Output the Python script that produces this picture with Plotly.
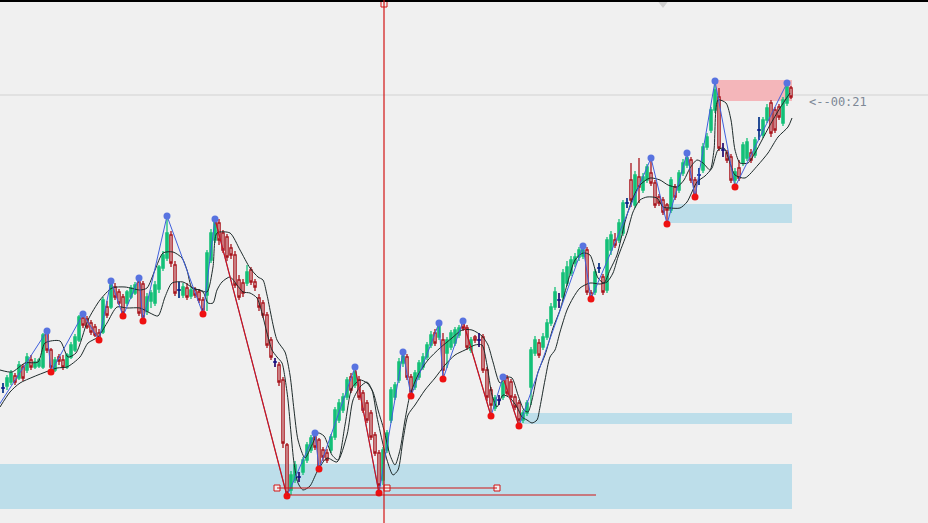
import plotly.graph_objects as go

# ---------------- candle data (arbitrary price units) ----------------
candle_idx = list(range(198))
open_ = [135,137,141,147,145,156,153,163,156,157,156,190,173,153,166,163,156,166,173,183,
         205,204,200,196,190,191,216,216,236,231,226,220,226,230,241,239,212,222,220,234,
         255,265,288,258,233,228,235,227,233,231,223,228,263,283,300,290,286,275,268,243,
         240,240,253,241,225,220,208,183,161,158,143,78,33,43,46,51,63,73,86,83,
         73,70,73,86,103,113,126,146,138,143,130,120,110,88,70,43,73,103,126,143,
         160,166,146,136,146,156,166,178,190,186,183,170,176,180,188,200,195,173,186,183,
         186,153,133,115,123,126,145,141,126,120,103,110,136,170,180,176,186,200,216,223,
         226,240,250,260,266,267,273,230,231,255,246,233,273,283,283,290,320,343,318,346,
         333,343,350,340,326,323,318,313,336,333,350,358,363,343,348,353,376,393,413,426,
         373,370,366,343,355,360,365,370,368,393,388,403,420,413,416,400,420,435]
high = [140,148,153,150,162,159,170,168,165,165,190,192,175,166,169,168,170,181,189,208,
        209,207,203,199,194,226,222,242,240,234,229,233,238,241,245,242,230,233,242,258,
        272,307,292,262,241,240,240,236,236,234,226,273,294,304,304,293,289,279,272,248,
        244,258,256,244,229,223,211,186,165,161,146,80,52,62,51,66,81,88,90,85,
        76,74,89,116,124,130,146,150,156,147,133,123,113,91,73,76,93,136,141,165,
        171,169,149,153,163,170,181,192,194,200,190,186,193,196,198,202,198,186,188,190,
        189,156,136,128,128,146,148,144,129,123,113,123,176,187,184,190,204,220,236,230,
        254,262,267,270,276,277,276,233,254,260,249,286,292,290,304,323,325,360,352,365,
        350,359,365,343,329,326,320,346,339,353,364,370,366,346,355,380,390,416,442,435,
        380,373,369,355,363,381,385,374,386,406,406,419,423,416,419,426,440,437]
low = [130,133,138,138,143,142,150,153,154,155,154,170,151,151,158,153,154,164,171,181,
       195,194,188,186,183,189,205,214,223,218,207,217,224,228,207,202,208,215,217,230,
       252,262,256,227,225,225,223,224,225,220,209,212,260,280,278,270,262,264,235,223,
       226,237,238,232,212,205,175,163,156,137,75,27,28,40,41,48,60,70,73,54,
       62,60,70,83,100,110,123,130,135,123,110,100,83,67,30,38,70,100,123,140,
       156,143,127,133,143,153,163,175,177,183,144,155,173,177,185,192,173,170,180,176,
       150,122,107,112,118,123,127,123,113,97,100,107,118,167,165,173,183,197,213,215,
       222,237,247,256,262,264,228,224,228,250,228,230,268,275,280,287,315,316,315,320,
       330,340,337,315,317,308,299,310,323,330,347,355,340,326,338,350,373,390,410,372,
       366,360,340,336,342,357,362,360,365,383,385,400,386,390,403,397,417,424]
close = [135,145,150,141,158,145,166,156,161,163,188,173,156,163,162,156,168,178,186,206,
         198,196,191,188,185,223,208,238,226,220,210,231,235,238,210,206,226,230,238,256,
         268,290,260,230,233,236,226,233,228,223,213,270,290,301,283,273,266,268,238,226,
         230,251,241,236,216,208,178,166,161,141,80,30,48,58,46,63,78,85,76,56,
         66,63,86,113,120,126,143,133,151,126,113,103,86,70,38,73,90,133,138,161,
         167,146,131,150,160,166,178,188,180,198,153,183,190,193,195,195,176,183,183,183,
         153,126,118,125,123,140,130,126,116,103,110,120,173,183,168,186,200,216,231,223,
         250,256,263,266,273,273,231,226,251,255,231,283,288,278,300,320,320,323,348,336,
         346,356,340,318,320,311,313,343,326,350,360,365,343,328,348,376,386,413,433,375,
         373,363,343,351,345,378,381,363,383,393,403,415,390,393,406,423,436,426]
doji_idx = [0, 44, 68, 74, 119, 124, 139, 149, 156, 174, 180, 189]

# ---------------- swing zigzag ----------------
zz_idx = [-1, 11, 12, 20, 24, 27, 30, 34, 35, 41, 50, 53, 71, 78, 79, 88, 94, 100, 102,
          109, 110, 115, 122, 125, 129, 145, 147, 162, 166, 171, 173, 178, 183, 196]
zz_price = [118, 192, 151, 209, 183, 242, 207, 245, 202, 307, 209, 304, 27, 90, 54, 156, 30,
            171, 127, 200, 144, 202, 107, 146, 97, 277, 224, 365, 299, 370, 326, 442, 336, 440]
zz_kind = ['S', 'H', 'L', 'H', 'L', 'H', 'L', 'H', 'L', 'H', 'L', 'H', 'L', 'H', 'L', 'H', 'L',
           'H', 'L', 'H', 'L', 'H', 'L', 'H', 'L', 'H', 'L', 'H', 'L', 'H', 'L', 'H', 'L', 'H']
red_leg_starts = [53, 88, 115, 125]   # legs drawn in red (high -> next low)

# ---------------- envelope bands ----------------
band_hi_x = [-0.75, 2.25, 5.5, 8.75, 10.5, 14.25, 16.25, 18.25, 21.25, 24.25, 27.25, 30.5, 34.25,
             36, 38, 40, 42.5, 44.75, 46, 47.25, 49.25, 51, 52.5, 53.5, 56.75, 59.25, 61.75,
             63.75, 65, 66, 68.5, 70.5, 71.75, 72.75, 73.75, 75.5, 77.25, 78.75, 80.25, 82.25,
             83.75, 85.5, 87.25, 89.25, 91, 92.5, 93.75, 95.25, 96.75, 98, 99.25, 100.5, 101.75,
             103.75, 106.25, 109.25, 112.25, 114.75, 117.25, 119.75, 121.25, 122.5, 124.25, 126,
             127.25, 128.75, 130.25, 131.25, 132.25, 133.75, 135.5, 137.5, 139.25, 141, 143, 145,
             146.75, 148.75, 150.25, 151.75, 153.5, 155.5, 157.25, 159.25, 161.75, 164.25, 166.25,
             168.5, 170.25, 171.75, 173.5, 175, 176.75, 177.75, 178.75, 180.75, 182, 183, 184.25,
             186.25, 188, 189.75, 191.75, 194.25, 196.75]
band_hi_y = [153, 151, 160, 161, 180, 182, 166, 170, 203, 223, 235, 236, 233,
             235, 253, 270, 271, 265, 253, 235, 233, 231, 256, 290, 290, 273, 255,
             246, 243, 228, 183, 171, 148, 113, 83, 65, 78, 90, 87, 68,
             63, 98, 135, 143, 140, 131, 113, 93, 68, 58, 73, 103, 128,
             148, 163, 175, 185, 193, 193, 187, 178, 161, 140, 146,
             145, 128, 113, 111, 123, 151, 168, 195, 213, 238, 263, 270,
             268, 245, 240, 253, 268, 301, 323, 338, 345, 343, 338,
             336, 343, 355, 363, 360, 353, 373, 423, 420, 403, 373, 360,
             360, 370, 383, 398, 415, 430]
band_lo_x = [-0.75, 1.75, 4.25, 7.5, 10, 13.5, 16, 19.25, 21.25, 23.75, 26, 28.5, 31, 34.25,
             36.75, 38.75, 40.5, 42.25, 45, 47.5, 50, 51.25, 52.5, 53.5, 54.75, 56.75, 58.5, 60,
             61.75, 63.5, 64.75, 66, 67.25, 68.5, 69.75, 70.5, 71.25, 72, 72.75, 73.75, 75, 76.75,
             78.5, 81, 83.5, 86, 87.5, 89.25, 91, 92.25, 93.5, 94.75, 96, 97.5, 98.75, 100,
             101.25, 103, 105.5, 108, 110.5, 113, 115.5, 118, 119.75, 121, 122.25, 123.5, 125,
             126.75, 128.5, 129.75, 131, 132.25, 133.5, 134.25, 135.5, 136.75, 138, 139.25, 141,
             142.5, 144.25, 146.75, 149.25, 151, 152.5, 153.75, 156, 157.5, 159.25, 161, 163.5,
             165, 166.75, 169.25, 171, 173.5, 175.5, 177.25, 178.75, 180.25, 181.5, 183, 185.5,
             188.75, 191.25, 193.75, 196.25, 197.25]
band_lo_y = [116, 131, 140, 146, 150, 155, 156, 166, 180, 186, 200, 216, 215, 215,
             210, 207, 226, 240, 241, 235, 231, 220, 220, 233, 241, 246, 238, 231,
             230, 225, 210, 190, 173, 166, 160, 145, 123, 90, 60, 40, 33, 37,
             51, 65, 61, 88, 123, 136, 141, 133, 106, 83, 63, 48, 53, 83,
             108, 118, 133, 145, 158, 168, 173, 178, 178, 158, 128, 116, 128,
             125, 116, 106, 103, 100, 103, 116, 143, 166, 173, 191, 213,
             225, 235, 240, 239, 241, 250, 266, 290, 311, 323, 326, 325,
             316, 315, 315, 321, 341, 347, 355, 373, 375, 363, 348, 345,
             358, 370, 386, 396, 405]

# ---------------- zones & drawing objects ----------------
zone_x0 = [-0.75, 129.25, 166.25]
zone_x1 = [197.25, 197.25, 197.25]
zone_lo = [14, 99, 300]
zone_hi = [59, 110, 319]
supply_x0, supply_x1, supply_lo, supply_hi = 178.25, 197.25, 422, 443

hline_price = [35, 28]
hline_x0 = [68.5, 71]
hline_x1 = [123.5, 148.25]
handle_x = [68.5, 96, 123.5]
vline_x = 95.25
bid_price = 428
timer_text = "<--00:21"
timer_x, timer_y = 201, 421

BG = "#f0f0f0"
GREEN = "#14c078"
RED = "#a8141c"
BLUE_LINE = "#3f5fdc"
BLUE_DOT = "#5873e0"
RED_DOT = "#ee1111"
DRAW_RED = "#d21414"
BAND = "#1e2a2a"
ZONE = "#bddeea"
PINK = "#f4b6ba"

fig = go.Figure()

# bands
fig.add_trace(go.Scatter(x=band_hi_x, y=band_hi_y, mode="lines",
                         line=dict(color=BAND, width=1, shape="spline", smoothing=0.7),
                         hoverinfo="skip"))
fig.add_trace(go.Scatter(x=band_lo_x, y=band_lo_y, mode="lines",
                         line=dict(color=BAND, width=1, shape="spline", smoothing=0.7),
                         hoverinfo="skip"))

# candles
fig.add_trace(go.Candlestick(
    x=candle_idx, open=open_, high=high, low=low, close=close,
    increasing=dict(line=dict(color=GREEN, width=1.3), fillcolor=GREEN),
    decreasing=dict(line=dict(color=RED, width=1.3), fillcolor=BG),
    whiskerwidth=0, hoverinfo="skip"))

# doji candles in navy
dx, dy = [], []
for i in doji_idx:
    dx += [i, i, None, i - 0.5, i + 0.5, None]
    dy += [high[i], low[i], None, open_[i], open_[i], None]
fig.add_trace(go.Scatter(x=dx, y=dy, mode="lines", line=dict(color="#0c1590", width=1.4),
                         hoverinfo="skip"))

# zigzag
fig.add_trace(go.Scatter(x=zz_idx, y=zz_price, mode="lines",
                         line=dict(color=BLUE_LINE, width=1), hoverinfo="skip"))
rx, ry = [], []
for s in red_leg_starts:
    k = zz_idx.index(s)
    rx += [zz_idx[k], zz_idx[k + 1], None]
    ry += [zz_price[k], zz_price[k + 1], None]
fig.add_trace(go.Scatter(x=rx, y=ry, mode="lines", line=dict(color=DRAW_RED, width=1.2),
                         hoverinfo="skip"))

hx = [x for x, k in zip(zz_idx, zz_kind) if k == "H"]
hy = [y for y, k in zip(zz_price, zz_kind) if k == "H"]
lx = [x for x, k in zip(zz_idx, zz_kind) if k == "L"]
ly = [y for y, k in zip(zz_price, zz_kind) if k == "L"]
fig.add_trace(go.Scatter(x=hx, y=hy, mode="markers",
                         marker=dict(color=BLUE_DOT, size=7), hoverinfo="skip"))
fig.add_trace(go.Scatter(x=lx, y=ly, mode="markers",
                         marker=dict(color=RED_DOT, size=7), hoverinfo="skip"))

shapes = []
for x0, x1, lo, hi in zip(zone_x0, zone_x1, zone_lo, zone_hi):
    shapes.append(dict(type="rect", xref="x", yref="y", x0=x0, x1=x1, y0=lo, y1=hi,
                       fillcolor=ZONE, line=dict(width=0), layer="below"))
shapes.append(dict(type="rect", xref="x", yref="y", x0=supply_x0, x1=supply_x1,
                   y0=supply_lo, y1=supply_hi, fillcolor=PINK, line=dict(width=0),
                   layer="below"))
shapes.append(dict(type="line", xref="paper", yref="y", x0=0, x1=1, y0=bid_price,
                   y1=bid_price, line=dict(color="#d2d2d2", width=1), layer="below"))
shapes.append(dict(type="line", xref="paper", yref="paper", x0=0, x1=1, y0=0.998,
                   y1=0.998, line=dict(color="#000000", width=2)))
for p, x0, x1 in zip(hline_price, hline_x0, hline_x1):
    shapes.append(dict(type="line", xref="x", yref="y", x0=x0, x1=x1, y0=p, y1=p,
                       line=dict(color=DRAW_RED, width=1.2)))
shapes.append(dict(type="line", xref="x", yref="paper", x0=vline_x, x1=vline_x, y0=0,
                   y1=1, line=dict(color=DRAW_RED, width=1.2)))

# handles of drawn objects
fig.add_trace(go.Scatter(x=handle_x + [vline_x], y=[hline_price[0]] * 3 + [519],
                         mode="markers",
                         marker=dict(symbol="square", size=6, color=BG,
                                     line=dict(color=DRAW_RED, width=1)),
                         hoverinfo="skip"))
fig.add_trace(go.Scatter(x=[165], y=[519], mode="markers",
                         marker=dict(symbol="triangle-down", size=8, color="#cfcfcf"),
                         hoverinfo="skip"))

fig.update_layout(
    width=928, height=523, margin=dict(l=0, r=0, t=0, b=0),
    paper_bgcolor=BG, plot_bgcolor=BG, showlegend=False, boxgap=0.2,
    xaxis=dict(range=[-0.75, 231.25], visible=False, rangeslider=dict(visible=False)),
    yaxis=dict(range=[0, 523], visible=False),
    shapes=shapes,
    annotations=[dict(x=timer_x, y=timer_y, xref="x", yref="y", text=timer_text,
                      showarrow=False, xanchor="left", yanchor="middle",
                      font=dict(family="DejaVu Sans Mono, monospace", size=12,
                                color="#7d8896"))],
)

fig.write_html("out.html",
               config={"displayModeBar": False},
               post_script="document.body.style.margin='0';"
                           "document.body.style.overflow='hidden';"
                           "document.body.style.background='#f0f0f0';")
